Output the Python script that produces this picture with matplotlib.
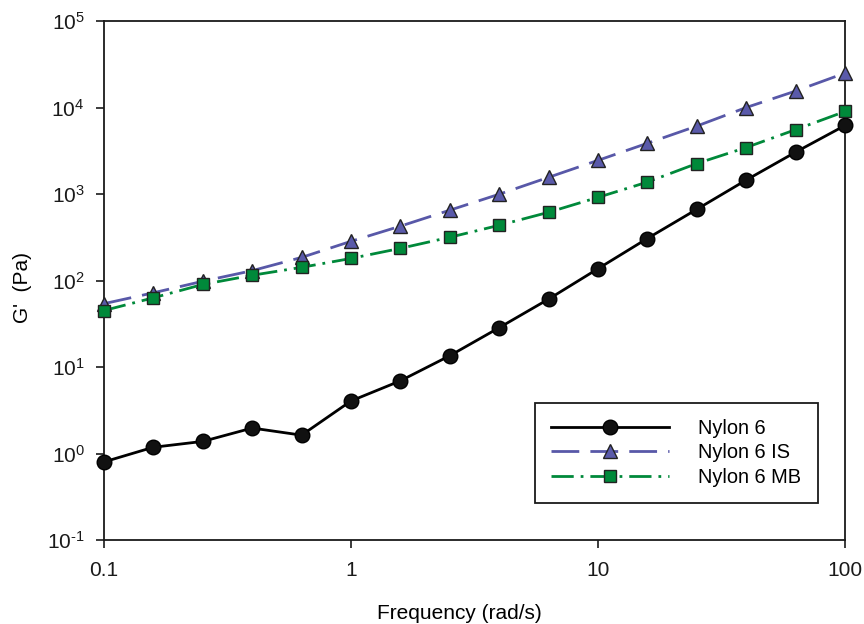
import matplotlib
matplotlib.use("Agg")
import matplotlib.pyplot as plt

plt.rcParams['font.family'] = ['Liberation Sans', 'DejaVu Sans']
plt.rcParams['mathtext.fontset'] = 'custom'
plt.rcParams['mathtext.rm'] = 'Liberation Sans'

# frequency (rad/s)
freq = [0.1, 0.158, 0.251, 0.398, 0.631, 1.0, 1.58, 2.51, 3.98, 6.31,
        10.0, 15.8, 25.1, 39.8, 63.1, 100.0]

# G' (Pa)
nylon6 = [0.80, 1.18, 1.38, 1.97, 1.63, 4.05, 6.9, 13.5, 28.5, 61,
          137, 305, 665, 1450, 3050, 6200]
nylon6_is = [54, 72, 98, 130, 185, 284, 424, 650, 995, 1560,
             2450, 3850, 6100, 10000, 15500, 25000]
nylon6_mb = [45, 63, 90, 115, 142, 180, 235, 316, 435, 615,
             915, 1370, 2250, 3450, 5550, 9000]

ytick_vals = [1e-1, 1e0, 1e1, 1e2, 1e3, 1e4, 1e5]
ytick_labels = [r'$\mathregular{10^{\text{-}1}}$', r'$\mathregular{10^{0}}$', r'$\mathregular{10^{1}}$',
                r'$\mathregular{10^{2}}$', r'$\mathregular{10^{3}}$', r'$\mathregular{10^{4}}$',
                r'$\mathregular{10^{5}}$']
xtick_vals = [0.1, 1, 10, 100]
xtick_labels = ['0.1', '1', '10', '100']

BLUE_LINE = '#5858a8'
BLUE_FILL = '#5a5aaa'
GREEN = '#00893a'

fig = plt.figure(figsize=(8.64, 6.24), dpi=100)
ax = fig.add_axes([0.1204, 0.1346, 0.8576, 0.8317])

ax.plot(freq, nylon6, color='black', lw=2, marker='o', ms=10.5,
        mfc='#111111', mec='black', label='Nylon 6', clip_on=False, zorder=3)
ax.plot(freq, nylon6_is, color=BLUE_LINE, lw=2, dashes=(10, 4), marker='^', ms=10.5,
        mfc=BLUE_FILL, mec='#222222', mew=1, label='Nylon 6 IS', clip_on=False, zorder=4)
ax.plot(freq, nylon6_mb, color=GREEN, lw=2, dashes=(8, 2.5, 1, 2.5), marker='s', ms=8.5,
        mfc=GREEN, mec='#222222', mew=1, label='Nylon 6 MB', clip_on=False, zorder=5)

ax.set_xscale('log')
ax.set_yscale('log')
ax.set_xlim(0.1, 100)
ax.set_ylim(0.1, 1e5)

ax.set_xticks(xtick_vals)
ax.set_xticklabels(xtick_labels)
ax.set_yticks(ytick_vals)
ax.set_yticklabels(ytick_labels)
ax.minorticks_off()
ax.tick_params(axis='both', direction='out', length=6, width=1.2, labelsize=15,
               colors='#1a1a1a')
ax.tick_params(axis='y', pad=8)
ax.tick_params(axis='x', pad=9)
for sp in ax.spines.values():
    sp.set_linewidth(1.3)
    sp.set_color('#1a1a1a')

ax.set_xlabel('Frequency (rad/s)', fontsize=15)
ax.xaxis.set_label_coords(0.480, -0.123)
ax.set_ylabel("G'  (Pa)", fontsize=15)
ax.yaxis.set_label_coords(-0.097, 0.4875)

leg = ax.legend(loc='lower left', bbox_to_anchor=(0.5816, 0.0713, 0.382, 0.197),
                mode='expand', fontsize=14.4, handlelength=5.9, handletextpad=1.45,
                numpoints=1, fancybox=False, edgecolor='#1a1a1a', framealpha=1,
                borderpad=0.8, labelspacing=0.28, borderaxespad=0)
leg.get_frame().set_linewidth(1.3)

fig.savefig('out.png', dpi=100)
